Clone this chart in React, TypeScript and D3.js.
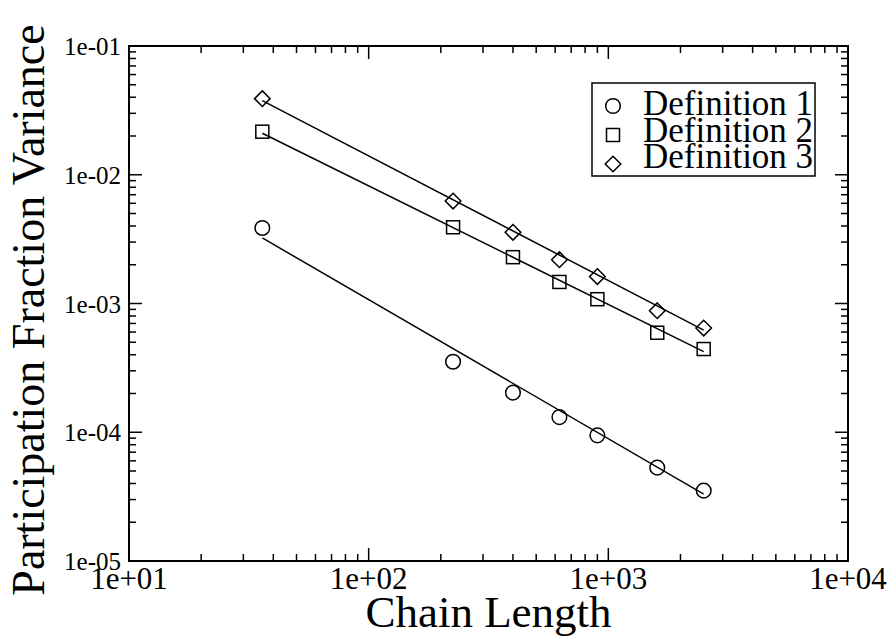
import React from "react";
import * as d3 from "d3";

const chainLength = [36, 225, 400, 625, 900, 1600, 2500];
const def1 = [3.86e-3, 3.53e-4, 2.03e-4, 1.31e-4, 9.46e-5, 5.31e-5, 3.52e-5];
const def2 = [2.16e-2, 3.91e-3, 2.29e-3, 1.47e-3, 1.08e-3, 5.93e-4, 4.43e-4];
const def3 = [3.9e-2, 6.25e-3, 3.57e-3, 2.19e-3, 1.62e-3, 8.79e-4, 6.45e-4];
const fitX = [36, 2500];
const fit1 = [3.23e-3, 3.31e-5];
const fit2 = [2.1e-2, 4.23e-4];
const fit3 = [3.76e-2, 6.22e-4];
const seriesNames = ["Definition 1", "Definition 2", "Definition 3"];
const xTickLabels = ["1e+01", "1e+02", "1e+03", "1e+04"];
const yTickLabels = ["1e-05", "1e-04", "1e-03", "1e-02", "1e-01"];
const xTitle = "Chain Length";
const yTitle = "Participation Fraction Variance";

const W = 891, H = 636;
const L = 129, R = 848, T = 46, B = 561;
const FONT = "'Liberation Serif', 'Times New Roman', serif";

function Marker({ kind, x, y }: { kind: number; x: number; y: number }) {
  const sw = 1.5;
  if (kind === 0) return <circle cx={x} cy={y} r={7.3} fill="none" stroke="#000" strokeWidth={sw} />;
  if (kind === 1) return <rect x={x - 6.5} y={y - 6.5} width={13} height={13} fill="none" stroke="#000" strokeWidth={sw} />;
  const d = 7.8;
  return <path d={`M${x},${y - d}L${x + d},${y}L${x},${y + d}L${x - d},${y}Z`} fill="none" stroke="#000" strokeWidth={sw} />;
}

export default function App() {
  const x = d3.scaleLog().domain([10, 10000]).range([L, R]);
  const y = d3.scaleLog().domain([1e-5, 1e-1]).range([B, T]);
  const series = [def1, def2, def3];
  const fits = [fit1, fit2, fit3];
  const line = d3.line<[number, number]>().x(d => x(d[0])).y(d => y(d[1]));

  const xMajor = [10, 100, 1000, 10000];
  const xMinor: number[] = [];
  for (let e = 1; e < 4; e++) for (let m = 2; m <= 9; m++) xMinor.push(m * Math.pow(10, e));
  const yMajor = [1e-5, 1e-4, 1e-3, 1e-2, 1e-1];
  const yMinor: number[] = [];
  for (let e = -5; e < -1; e++) for (let m = 2; m <= 9; m++) yMinor.push(m * Math.pow(10, e));

  const MJ = 13, MN = 7;
  const tickStroke = { stroke: "#000", strokeWidth: 1.5 };

  return (
    <svg width={W} height={H} style={{ position: "absolute", left: 0, top: 0, background: "#fff" }}>
      <rect x={0} y={0} width={W} height={H} fill="#fff" />
      {xMajor.map((v, i) => (
        <g key={"xm" + i}>
          <line x1={x(v)} x2={x(v)} y1={B} y2={B - MJ} {...tickStroke} />
          <line x1={x(v)} x2={x(v)} y1={T} y2={T + MJ} {...tickStroke} />
        </g>
      ))}
      {xMinor.map((v, i) => (
        <g key={"xn" + i}>
          <line x1={x(v)} x2={x(v)} y1={B} y2={B - MN} {...tickStroke} />
          <line x1={x(v)} x2={x(v)} y1={T} y2={T + MN} {...tickStroke} />
        </g>
      ))}
      {yMajor.map((v, i) => (
        <g key={"ym" + i}>
          <line x1={L} x2={L + MJ} y1={y(v)} y2={y(v)} {...tickStroke} />
          <line x1={R} x2={R - MJ} y1={y(v)} y2={y(v)} {...tickStroke} />
        </g>
      ))}
      {yMinor.map((v, i) => (
        <g key={"yn" + i}>
          <line x1={L} x2={L + MN} y1={y(v)} y2={y(v)} {...tickStroke} />
          <line x1={R} x2={R - MN} y1={y(v)} y2={y(v)} {...tickStroke} />
        </g>
      ))}
      <rect x={L} y={T} width={R - L} height={B - T} fill="none" stroke="#000" strokeWidth={2} />

      {xMajor.map((v, i) => (
        <text key={"xl" + i} x={x(v)} y={589} textAnchor="middle" fontFamily={FONT} fontSize={31} fill="#000">
          {xTickLabels[i]}
        </text>
      ))}
      {yMajor.map((v, i) => (
        <text key={"yl" + i} x={121} y={y(v) + 9} textAnchor="end" fontFamily={FONT} fontSize={25} fill="#000">
          {yTickLabels[i]}
        </text>
      ))}

      <text x={(L + R) / 2} y={627} textAnchor="middle" fontFamily={FONT} fontSize={45} fill="#000">{xTitle}</text>
      <text transform={`translate(44,310) rotate(-90)`} textAnchor="middle" fontFamily={FONT} fontSize={46} fill="#000">{yTitle}</text>

      {fits.map((f, i) => (
        <path key={"f" + i} d={line(fitX.map((xv, j) => [xv, f[j]] as [number, number])) || ""} fill="none" stroke="#000" strokeWidth={1.5} />
      ))}

      {series.map((s, k) => s.map((v, i) => <Marker key={k + "-" + i} kind={k} x={x(chainLength[i])} y={y(v)} />))}

      <rect x={592} y={83} width={223} height={93} fill="#fff" stroke="#000" strokeWidth={1.5} />
      {seriesNames.map((n, i) => (
        <g key={"lg" + i}>
          <Marker kind={i} x={613} y={106 + i * 29} />
          <text x={643} y={115 + i * 26.5} fontFamily={FONT} fontSize={35} fill="#000">{n}</text>
        </g>
      ))}
    </svg>
  );
}
